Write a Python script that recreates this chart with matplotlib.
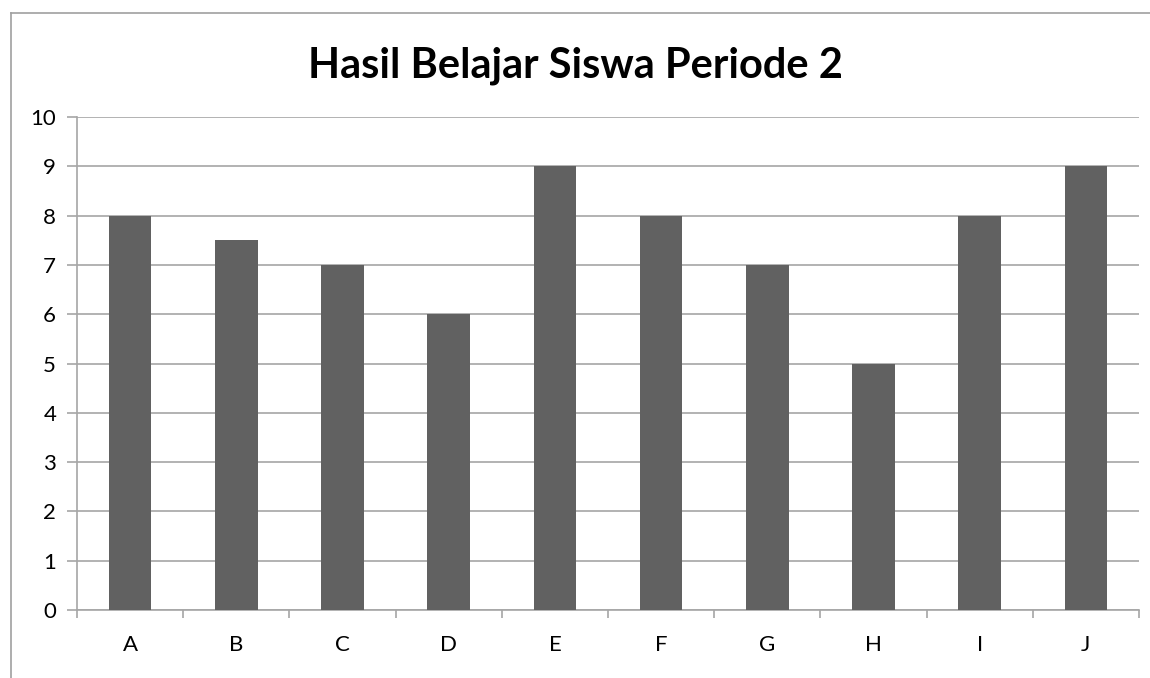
import numpy as np
import matplotlib.pyplot as plt
from matplotlib.lines import Line2D

# data
siswa = ['A', 'B', 'C', 'D', 'E', 'F', 'G', 'H', 'I', 'J']
nilai = [8, 7.5, 7, 6, 9, 8, 7, 5, 8, 9]
y_ticks = list(range(0, 11))

plt.rcParams['font.family'] = ['Lato', 'DejaVu Sans']

fig = plt.figure(figsize=(11.5, 6.78), dpi=100)
ax = fig.add_axes([77 / 1150, 68 / 678, (1139 - 77) / 1150, (610 - 117) / 678])

grid_col = '#a6a6a6'
x = np.arange(len(siswa))
ax.bar(x, nilai, width=0.4, color='#616161', zorder=3)

ax.set_xlim(-0.5, len(siswa) - 0.5)
ax.set_ylim(0, 10)
ax.set_yticks(y_ticks)
ax.set_yticklabels([str(t) for t in y_ticks], fontsize=16)
ax.set_xticks(x)
ax.set_xticklabels(siswa, fontsize=16)
ax.tick_params(axis='x', which='major', length=0, pad=18)
ax.set_xticks(np.arange(-0.5, len(siswa), 1), minor=True)
ax.tick_params(axis='x', which='minor', length=6, color=grid_col, width=1.2)
ax.tick_params(axis='y', length=7, color=grid_col, width=1.2, pad=8)

ax.grid(axis='y', color=grid_col, linewidth=1.2, zorder=0)
for s in ['top', 'right']:
    ax.spines[s].set_visible(False)
for s in ['left', 'bottom']:
    ax.spines[s].set_color(grid_col)
    ax.spines[s].set_linewidth(1.2)

fig.text(575 / 1150, 1 - 66 / 678, 'Hasil Belajar Siswa Periode 2', ha='center', va='center',
         fontsize=30, fontweight='bold')

# outer chart frame
bx = 11 / 1150
by = 1 - 13 / 678
fig.add_artist(Line2D([bx, bx], [0, by], color='#a0a0a0', linewidth=1.2, transform=fig.transFigure))
fig.add_artist(Line2D([bx, 1], [by, by], color='#a0a0a0', linewidth=1.2, transform=fig.transFigure))

fig.savefig('out.png', dpi=100)
